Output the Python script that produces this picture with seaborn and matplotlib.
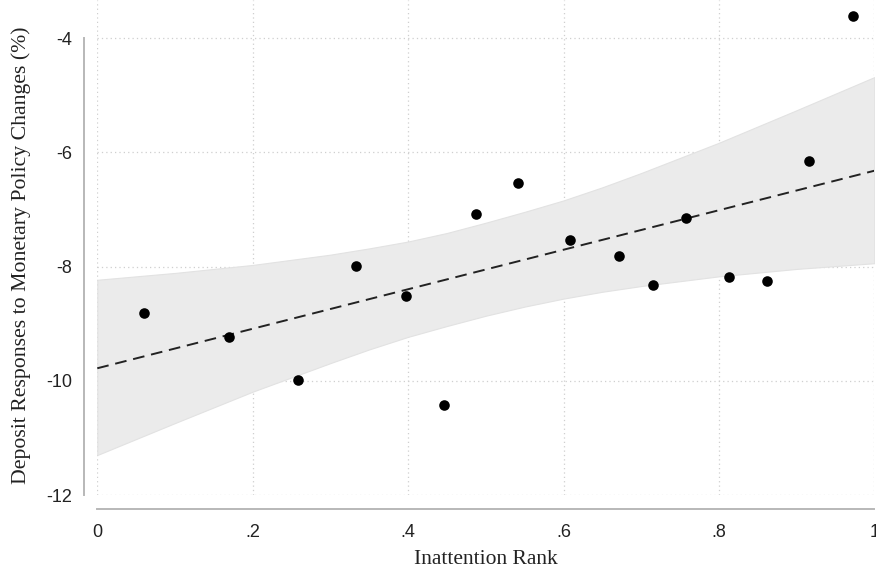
import numpy as np
import pandas as pd
import matplotlib
matplotlib.use("Agg")
import matplotlib.pyplot as plt
import seaborn as sns

# Daten
inattention_rank = [0.060, 0.169, 0.258, 0.333, 0.397, 0.446, 0.487, 0.541,
                    0.609, 0.671, 0.715, 0.758, 0.813, 0.862, 0.916, 0.973]
deposit_response = [-8.82, -9.23, -9.98, -7.99, -8.51, -10.42, -7.08, -6.54,
                    -7.53, -7.81, -8.33, -7.15, -8.19, -8.25, -6.15, -3.61]

# Angepasste Gerade und 95%-Band
fit_x = [0.0, 1.0]
fit_y = [-9.78, -6.32]
band_x = [0.0, 0.1, 0.2, 0.3, 0.35, 0.4, 0.45, 0.5, 0.55, 0.6, 0.65, 0.7, 0.8, 0.9, 1.0]
band_upper = [-8.23, -8.11, -7.97, -7.79, -7.68, -7.56, -7.41, -7.23,
              -7.04, -6.84, -6.61, -6.36, -5.83, -5.26, -4.68]
band_lower = [-11.30, -10.74, -10.19, -9.69, -9.45, -9.23, -9.04, -8.86,
              -8.70, -8.56, -8.44, -8.34, -8.17, -8.04, -7.94]

x_ticks = [0, 0.2, 0.4, 0.6, 0.8, 1.0]
x_ticklabels = ["0", ".2", ".4", ".6", ".8", "1"]
y_ticks = [-12, -10, -8, -6, -4]
y_ticklabels = ["-12", "-10", "-8", "-6", "-4"]

df = pd.DataFrame({"rank": inattention_rank, "resp": deposit_response})
df_fit = pd.DataFrame({"rank": fit_x, "resp": fit_y})

sns.set_style("white")
plt.rcParams["font.family"] = ["Liberation Sans", "DejaVu Sans"]

fig = plt.figure(figsize=(8.76, 5.71), dpi=100)
ax = fig.add_axes([97.3 / 876, 76 / 571, 777 / 876, 495 / 571])

ax.fill_between(band_x, band_lower, band_upper, color="#ebebeb",
                edgecolor="#e2e2e2", linewidth=0.8, zorder=1)
sns.lineplot(data=df_fit, x="rank", y="resp", color="#222222",
             linestyle=(0, (6, 3.5)), linewidth=1.4, ax=ax, zorder=2)
sns.scatterplot(data=df, x="rank", y="resp", color="black", s=58,
                edgecolor="black", linewidth=0, ax=ax, zorder=3)

ax.set_xlim(0, 1)
ax.set_ylim(-12, -4 + 38.3 / 57.1)

ax.set_xticks(x_ticks)
ax.set_xticklabels(x_ticklabels)
ax.set_yticks(y_ticks)
ax.set_yticklabels(y_ticklabels)
ax.tick_params(axis="both", length=5.5, width=1, color="#b0b0b0",
               labelcolor="#222222", labelsize=13)
ax.tick_params(axis="x", pad=5.5)
ax.tick_params(axis="y", pad=3)

ax.grid(True, linestyle=(0, (1, 2.5)), color="#cfcfcf", linewidth=0.9)
ax.set_axisbelow(True)

for side in ["top", "right"]:
    ax.spines[side].set_visible(False)
ax.spines["left"].set_position(("outward", 9.6))
ax.spines["bottom"].set_position(("outward", 10))
ax.spines["left"].set_bounds(-12, -4)
ax.spines["bottom"].set_bounds(0, 1)
for side in ["left", "bottom"]:
    ax.spines[side].set_color("#b8b8b8")
    ax.spines[side].set_linewidth(1.4)

ax.set_xlabel("Inattention Rank", family="Liberation Serif", fontsize=15.5,
              color="#222222")
ax.set_ylabel("Deposit Responses to Monetary Policy Changes (%)",
              family="Liberation Serif", fontsize=15.7, color="#222222")
ax.xaxis.label.set_va("center")
ax.yaxis.label.set_va("center")
ax.xaxis.set_label_coords(0.5, -0.13)
ax.yaxis.set_label_coords(-0.098, 0.485)

fig.savefig("out.png", dpi=100)
